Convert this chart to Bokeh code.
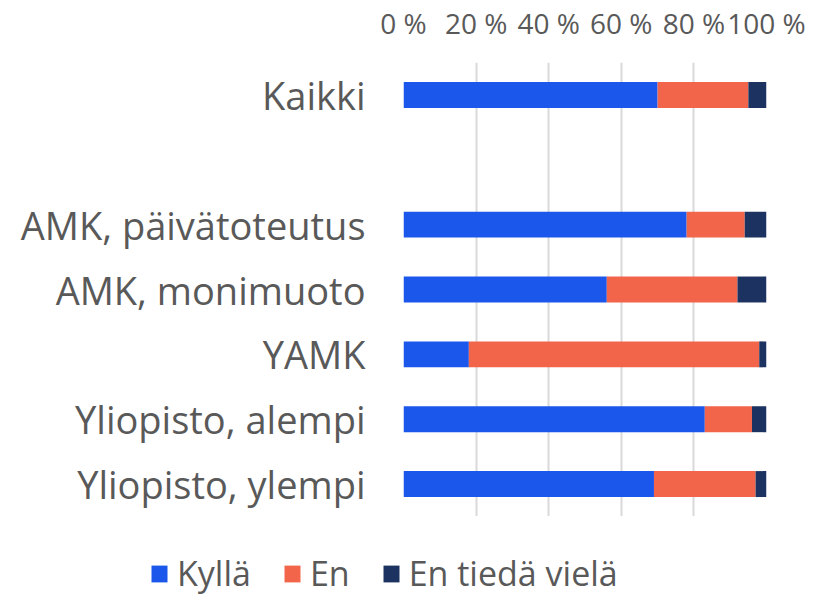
from bokeh.plotting import figure
from bokeh.models import ColumnDataSource, FactorRange, Range1d, Legend, LegendItem, FixedTicker
from bokeh.embed import file_html
from bokeh.resources import INLINE

categories = ["Kaikki", " ", "AMK, päivätoteutus", "AMK, monimuoto", "YAMK",
              "Yliopisto, alempi", "Yliopisto, ylempi"]
kylla = [70, 0, 78, 56, 18, 83, 69]
en = [25, 0, 16, 36, 80, 13, 28]
en_tieda = [5, 0, 6, 8, 2, 4, 3]
series = ["kylla", "en", "en_tieda"]
series_labels = ["Kyllä", "En", "En tiedä vielä"]
colors = ["#1B57EB", "#F2654B", "#1C3260"]
tick_values = [0, 20, 40, 60, 80, 100]
tick_labels = {0: "0 %", 20: "20 %", 40: "40 %", 60: "60 %", 80: "80 %", 100: "100 %"}

FONT = "Open Sans"
GREY = "#595959"

src = ColumnDataSource(dict(cat=categories, kylla=kylla, en=en, en_tieda=en_tieda))

p = figure(width=813, height=516, output_backend="svg", toolbar_location=None,
           y_range=FactorRange(*list(reversed(categories)), range_padding=0, factor_padding=0),
           x_range=Range1d(0, 100), x_axis_location="above",
           min_border_left=403, min_border_right=47, min_border_top=60, min_border_bottom=0)
p.outline_line_color = None

renderers = p.hbar_stack(series, y="cat", height=0.4, color=colors, line_color=None, source=src)

xa = p.xaxis[0]
xa.ticker = FixedTicker(ticks=tick_values)
xa.major_label_overrides = tick_labels
xa.axis_line_color = None
xa.major_tick_line_color = None
xa.minor_tick_line_color = None
xa.major_tick_out = 0
xa.major_label_text_font = FONT
xa.major_label_text_font_size = "28px"
xa.major_label_text_color = GREY
xa.major_label_standoff = 21

ya = p.yaxis[0]
ya.axis_line_color = None
ya.major_tick_line_color = None
ya.major_tick_out = 0
ya.major_label_text_font = FONT
ya.major_label_text_font_size = "38px"
ya.major_label_text_color = GREY
ya.major_label_standoff = 38

p.ygrid.grid_line_color = None
p.xgrid.ticker = FixedTicker(ticks=tick_values)
p.xgrid.grid_line_color = "#D9D9D9"
p.xgrid.grid_line_width = 2

# legend in a separate strip below the chart (own root, full-width frame)
q = figure(width=813, height=80, output_backend="svg", toolbar_location=None,
           x_range=Range1d(0, 1), y_range=Range1d(0, 1),
           min_border_left=0, min_border_right=0, min_border_top=0, min_border_bottom=0)
q.xaxis.visible = False
q.yaxis.visible = False
q.grid.visible = False
q.outline_line_color = None
dummy = [q.rect(x=[-5], y=[-5], width=[1], height=[1], color=c, line_color=None) for c in colors]
legend = Legend(items=[LegendItem(label=l, renderers=[r]) for l, r in zip(series_labels, dummy)],
                orientation="horizontal", location=(149, 0),
                label_text_font=FONT, label_text_font_size="34px", label_text_color=GREY,
                glyph_width=20, glyph_height=21, label_standoff=8, spacing=31,
                padding=0, margin=0, border_line_color=None, background_fill_alpha=0)
q.add_layout(legend, "center")

open("out.html", "w").write(file_html([p, q], INLINE))
